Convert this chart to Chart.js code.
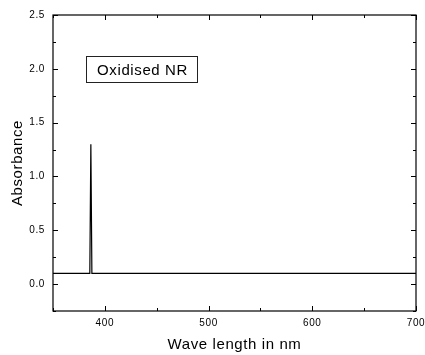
<!DOCTYPE html>
<html>
<head>
<meta charset="utf-8">
<script src="https://cdn.jsdelivr.net/npm/chart.js@4.4.1/dist/chart.umd.min.js"></script>
<style>
  html, body { margin: 0; padding: 0; background: #fff; }
  #wrap { width: 425px; height: 355px; }
</style>
</head>
<body>
<div id="wrap"><canvas id="uv-chart"></canvas></div>
<script>
// spectrum: flat baseline with one sharp spike near 386 nm
var wavelength = [350, 385.5, 386.5, 387.5, 700];
var absorbance = [0.1, 0.1, 1.3, 0.1, 0.1];

var xTicks = [400, 500, 600, 700];
var yTicks = [0.0, 0.5, 1.0, 1.5, 2.0, 2.5];
var label = "Oxidised NR";

var FONT = "'Liberation Sans', Arial, sans-serif";

var points = [];
for (let i = 0; i < wavelength.length; i++) {
  points.push({ x: wavelength[i], y: absorbance[i] });
}

// frame, inward tick marks on all four sides, and the label box
var framePlugin = {
  id: 'frame',
  beforeInit: function(chart) {
    chart.ctx.letterSpacing = '0.6px';
  },
  beforeDraw: function(chart) {
    chart.ctx.letterSpacing = '0.6px';
  },
  afterDraw: function(chart) {
    var ctx = chart.ctx;
    var a = chart.chartArea;
    var xs = chart.scales.x, ys = chart.scales.y;
    ctx.save();
    ctx.strokeStyle = '#000';
    ctx.lineWidth = 1.2;
    ctx.strokeRect(a.left, a.top, a.right - a.left, a.bottom - a.top);

    ctx.lineWidth = 1;
    ctx.beginPath();
    for (let v = xs.min; v <= xs.max; v += 50) {
      var px = Math.round(xs.getPixelForValue(v)) + 0.5;
      var len = (v % 100 === 0) ? 5 : 3;
      ctx.moveTo(px, a.bottom); ctx.lineTo(px, a.bottom - len);
      ctx.moveTo(px, a.top); ctx.lineTo(px, a.top + len);
    }
    for (let v = -0.25; v <= 2.5001; v += 0.25) {
      var py = Math.round(ys.getPixelForValue(v)) + 0.5;
      var major = Math.abs(Math.round(v * 2) - v * 2) < 0.001;
      var l2 = major ? 5 : 3;
      ctx.moveTo(a.left, py); ctx.lineTo(a.left + l2, py);
      ctx.moveTo(a.right, py); ctx.lineTo(a.right - l2, py);
    }
    ctx.stroke();

    // label box
    var bx = Math.round(xs.getPixelForValue(381.5)) + 0.5;
    var bx2 = Math.round(xs.getPixelForValue(489)) + 0.5;
    var by = Math.round(ys.getPixelForValue(2.12)) + 0.5;
    var by2 = Math.round(ys.getPixelForValue(1.88)) + 0.5;
    ctx.strokeStyle = '#222';
    ctx.strokeRect(bx, by, bx2 - bx, by2 - by);
    ctx.fillStyle = '#000';
    ctx.font = '15px ' + FONT;
    ctx.letterSpacing = '0.6px';
    ctx.textAlign = 'center';
    ctx.textBaseline = 'middle';
    ctx.fillText(label, (bx + bx2) / 2 + 0.5, (by + by2) / 2 + 1);
    ctx.restore();
  }
};

new Chart(document.getElementById('uv-chart'), {
  type: 'scatter',
  data: {
    datasets: [{
      data: points,
      showLine: true,
      borderColor: '#000',
      borderWidth: 1.2,
      pointRadius: 0,
      tension: 0
    }]
  },
  options: {
    responsive: true,
    maintainAspectRatio: false,
    animation: false,
    layout: { padding: { top: 15, right: 9, left: 0, bottom: 0 } },
    plugins: {
      legend: { display: false },
      tooltip: { enabled: false }
    },
    scales: {
      x: {
        type: 'linear',
        min: 350,
        max: 700,
        grid: { display: false, drawTicks: false },
        border: { display: false },
        afterBuildTicks: function(scale) {
          scale.ticks = xTicks.map(function(v) { return { value: v }; });
        },
        afterFit: function(scale) {
          scale.height = 44;
          scale.paddingLeft = 0;
          scale.paddingRight = 0;
        },
        ticks: {
          padding: 6,
          maxRotation: 0,
          color: '#000',
          font: { family: FONT, size: 10 }
        },
        title: {
          display: true,
          text: 'Wave length in nm',
          color: '#000',
          padding: { top: 1, bottom: 1 },
          font: { family: FONT, size: 15 }
        }
      },
      y: {
        min: -0.25,
        max: 2.5,
        grid: { display: false, drawTicks: false },
        border: { display: false },
        afterBuildTicks: function(scale) {
          scale.ticks = yTicks.map(function(v) { return { value: v }; });
        },
        afterFit: function(scale) {
          scale.width = 53;
          scale.paddingTop = 0;
          scale.paddingBottom = 0;
        },
        ticks: {
          padding: 8,
          color: '#000',
          font: { family: FONT, size: 10 },
          callback: function(v) { return Number(v).toFixed(1); }
        },
        title: {
          display: true,
          text: 'Absorbance',
          color: '#000',
          padding: { top: 9, bottom: 9 },
          font: { family: FONT, size: 15 }
        }
      }
    }
  },
  plugins: [framePlugin]
});
</script>
</body>
</html>
